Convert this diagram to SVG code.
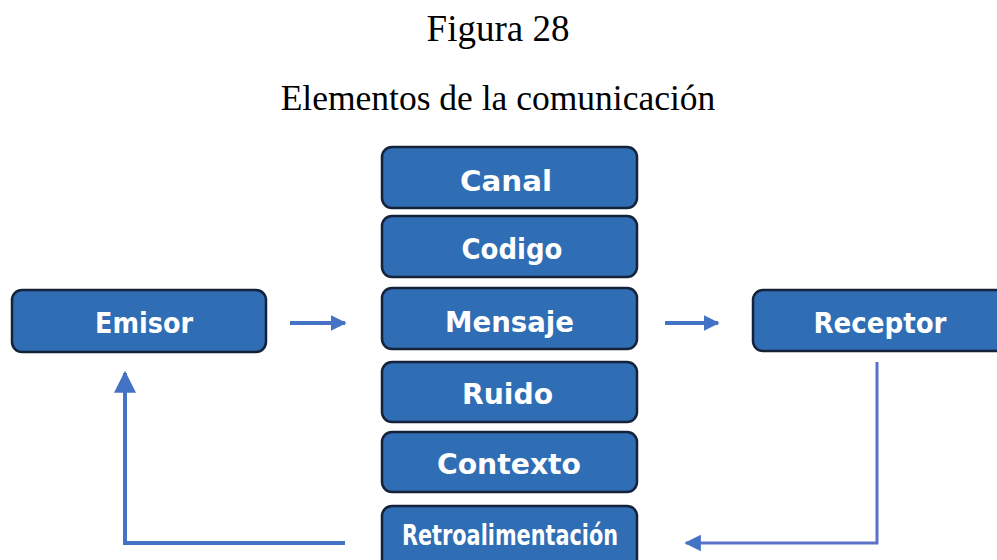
<svg xmlns="http://www.w3.org/2000/svg" width="997" height="560" viewBox="0 0 997 560">
<defs>
<style>
.title{font-family:"Liberation Serif","Times New Roman",serif;fill:#000;text-anchor:middle}
.box{fill:#2F6DB5;stroke:#15233A;stroke-width:2.5}
.lbl{font-family:"DejaVu Sans",sans-serif;font-weight:bold;fill:#FFFFFF;text-anchor:middle;font-size:28px}
.conn{stroke:#4472C4;stroke-width:4;fill:none}
.thin{stroke:#5B70C8;stroke-width:3;fill:none}
</style>
<marker id="ah" viewBox="0 0 10 10" refX="9" refY="5" markerWidth="4" markerHeight="4" orient="auto" markerUnits="strokeWidth">
<path d="M0,0 L10,5 L0,10 Z" fill="#4472C4"/>
</marker>
<marker id="ah2" viewBox="0 0 10 10" refX="9" refY="5" markerWidth="5.5" markerHeight="5.5" orient="auto" markerUnits="strokeWidth">
<path d="M0,0 L10,5 L0,10 Z" fill="#4472C4"/>
</marker>
</defs>
<rect width="997" height="560" fill="#FFFFFF"/>
<text class="title" x="498" y="41" font-size="37">Figura 28</text>
<text class="title" x="498" y="110" font-size="35.5">Elementos de la comunicación</text>

<g id="emisor"><rect class="box" x="12" y="290" width="254" height="62" rx="10"/><text class="lbl" x="144" y="333" textLength="98" lengthAdjust="spacingAndGlyphs">Emisor</text></g>
<g id="canal"><rect class="box" x="382" y="147" width="255" height="61" rx="10"/><text class="lbl" x="506" y="191" textLength="92" lengthAdjust="spacingAndGlyphs">Canal</text></g>
<g id="codigo"><rect class="box" x="382" y="216" width="255" height="61" rx="10"/><text class="lbl" x="512" y="259" textLength="101" lengthAdjust="spacingAndGlyphs">Codigo</text></g>
<g id="mensaje"><rect class="box" x="382" y="288" width="255" height="61" rx="10"/><text class="lbl" x="509.5" y="332" textLength="129" lengthAdjust="spacingAndGlyphs">Mensaje</text></g>
<g id="ruido"><rect class="box" x="382" y="362" width="255" height="60" rx="10"/><text class="lbl" x="507.5" y="404" textLength="91" lengthAdjust="spacingAndGlyphs">Ruido</text></g>
<g id="contexto"><rect class="box" x="382" y="432" width="255" height="60" rx="10"/><text class="lbl" x="509" y="474" textLength="144" lengthAdjust="spacingAndGlyphs">Contexto</text></g>
<g id="retroalimentacion"><rect class="box" x="382" y="506" width="255" height="70" rx="10"/><text class="lbl" x="510" y="545" font-size="22" textLength="216" lengthAdjust="spacingAndGlyphs">Retroalimentación</text></g>
<g id="receptor"><rect class="box" x="753" y="290" width="260" height="61" rx="10"/><text class="lbl" x="880" y="333" textLength="133" lengthAdjust="spacingAndGlyphs">Receptor</text></g>

<g id="connectors">
<line class="conn" x1="290" y1="323" x2="345" y2="323" marker-end="url(#ah)"/>
<line class="conn" x1="665" y1="323" x2="718" y2="323" marker-end="url(#ah)"/>
<polyline class="conn" points="345,543 125,543 125,373" marker-end="url(#ah2)"/>
<polyline class="thin" points="877,362 877,543 686,543" marker-end="url(#ah2)"/>
</g>
</svg>
